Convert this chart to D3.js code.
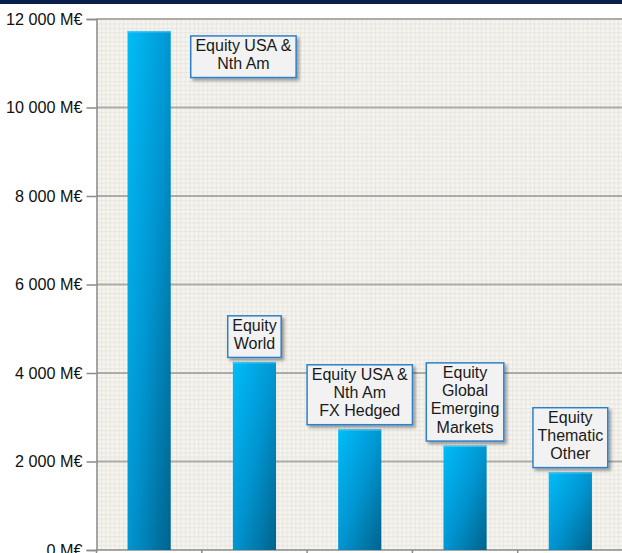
<!DOCTYPE html>
<html>
<head>
<meta charset="utf-8">
<script src="https://cdn.jsdelivr.net/npm/d3@7"></script>
<style>
  body { margin: 0; background: #ffffff; }
  text { font-family: "Liberation Sans", Arial, sans-serif; }
</style>
</head>
<body>
<div id="container"></div>
<script>
let w = 622;
let h = 553;

// data
let categories = ["eq_usa", "eq_world", "eq_usa_fx", "eq_em", "eq_them"];
let values = [11730, 4250, 2730, 2360, 1760];
let labels = [
  ["Equity USA &", "Nth Am"],
  ["Equity", "World"],
  ["Equity USA &", "Nth Am", "FX Hedged"],
  ["Equity", "Global", "Emerging", "Markets"],
  ["Equity", "Thematic", "Other"]
];
let yTicks = [0, 2000, 4000, 6000, 8000, 10000, 12000];

let margin = {top: 19, left: 96.5, bottom: 3, right: -1};

let viz = d3.select("#container")
  .append("svg")
    .attr("width", w)
    .attr("height", h)
;

let defs = viz.append("defs");

// small grid background pattern
let pat = defs.append("pattern")
  .attr("id", "grid")
  .attr("patternUnits", "userSpaceOnUse")
  .attr("width", 4.42)
  .attr("height", 4.42)
  .attr("x", margin.left)
  .attr("y", margin.top);
pat.append("rect").attr("width", 4.42).attr("height", 4.42).attr("fill", "#f5f4ef");
pat.append("path").attr("d", "M0,0.5H4.42M0.5,0V4.42").attr("stroke", "#e8e6df").attr("stroke-width", 1);

// bar gradient
let grad = defs.append("linearGradient")
  .attr("id", "barfill")
  .attr("x1", 0).attr("y1", 0).attr("x2", 1).attr("y2", 1);
grad.append("stop").attr("offset", 0).attr("stop-color", "#00bdf8");
grad.append("stop").attr("offset", 0.5).attr("stop-color", "#0096d2");
grad.append("stop").attr("offset", 1).attr("stop-color", "#00638c");

// drop shadow for labels
let shadow = defs.append("filter").attr("id", "shadow")
  .attr("x", "-20%").attr("y", "-20%").attr("width", "150%").attr("height", "150%");
shadow.append("feDropShadow")
  .attr("dx", 2.5).attr("dy", 2.5).attr("stdDeviation", 1.5)
  .attr("flood-color", "#000").attr("flood-opacity", 0.35);

// top navy band
viz.append("rect")
  .attr("x", 0).attr("y", 0).attr("width", w).attr("height", 4)
  .attr("fill", "#0b1f4b");

let xScale = d3.scaleBand()
  .domain(categories)
  .range([margin.left, w - margin.right])
  .paddingInner(0).paddingOuter(0);

let yScale = d3.scaleLinear()
  .domain([0, 12000])
  .range([h - margin.bottom, margin.top]);

// plot background
viz.append("rect")
  .attr("x", margin.left)
  .attr("y", margin.top)
  .attr("width", w - margin.left)
  .attr("height", yScale(0) - margin.top)
  .attr("fill", "url(#grid)");

// major gridlines
viz.append("g").attr("class", "gridlines")
  .selectAll("line")
  .data(yTicks.filter(d => d > 0))
  .enter()
  .append("line")
    .attr("x1", margin.left)
    .attr("x2", w)
    .attr("y1", d => yScale(d))
    .attr("y2", d => yScale(d))
    .attr("stroke", "#ababa7")
    .attr("stroke-width", 2);

let fmt = function(d){
  return d3.format(",")(d).replace(/,/g, " ") + " M€";
};

// y axis
let yAxis = d3.axisLeft(yScale)
  .tickValues(yTicks)
  .tickFormat(fmt)
  .tickSize(10)
  .tickPadding(4);
let yAxisGroup = viz.append("g").attr("class", "yaxis")
  .attr("transform", "translate(" + margin.left + ",0)")
  .call(yAxis);
yAxisGroup.select(".domain").attr("stroke", "#8a8a8a").attr("stroke-width", 1.5);
yAxisGroup.selectAll(".tick line").attr("stroke", "#8a8a8a").attr("stroke-width", 1.5);
yAxisGroup.selectAll(".tick text")
  .attr("font-size", "16.2px")
  .attr("fill", "#111")
  .style("font-family", "'Liberation Sans', Arial, sans-serif");

// x axis (no labels, ticks at band boundaries)
let xAxisGroup = viz.append("g").attr("class", "xaxis")
  .attr("transform", "translate(0," + yScale(0) + ")");
xAxisGroup.append("line")
  .attr("x1", margin.left).attr("x2", w)
  .attr("stroke", "#8a8a8a").attr("stroke-width", 1.5);
xAxisGroup.selectAll(".xtick")
  .data(categories)
  .enter()
  .append("line")
    .attr("class", "xtick")
    .attr("x1", d => xScale(d))
    .attr("x2", d => xScale(d))
    .attr("y1", 0).attr("y2", 6)
    .attr("stroke", "#8a8a8a").attr("stroke-width", 1.5);

// bars
let barW = xScale.bandwidth() * 0.41;
let data = categories.map(function(c, i){
  return {cat: c, value: values[i], label: labels[i]};
});

let bars = viz.append("g").attr("class", "bars")
  .selectAll(".bar")
  .data(data)
  .enter()
  .append("g")
  .attr("class", "bar");

bars.append("rect")
  .attr("x", d => xScale(d.cat) + (xScale.bandwidth() - barW) / 2)
  .attr("y", d => yScale(d.value))
  .attr("width", barW)
  .attr("height", d => yScale(0) - yScale(d.value))
  .attr("fill", "url(#barfill)");

// light cap on top of each bar
bars.append("rect")
  .attr("x", d => xScale(d.cat) + (xScale.bandwidth() - barW) / 2)
  .attr("y", d => yScale(d.value))
  .attr("width", barW)
  .attr("height", 1.5)
  .attr("fill", "#6fd6ff")
  .attr("opacity", 0.6);

// data labels in boxes
let lineH = 18.3;
let labelGroup = viz.append("g").attr("class", "labels");

data.forEach(function(d){
  let g = labelGroup.append("g");
  let box = g.append("rect")
    .attr("fill", "#f2f2f2")
    .attr("stroke", "#2f80c8")
    .attr("stroke-width", 1.5)
    .attr("filter", "url(#shadow)");
  let txt = g.append("text")
    .attr("text-anchor", "middle")
    .attr("font-size", "16px")
    .attr("fill", "#1a1a1a");
  d.label.forEach(function(line, i){
    txt.append("tspan")
      .attr("x", 0)
      .attr("y", 15 + i * lineH)
      .text(line);
  });
  let tw = txt.node().getBBox().width;
  let bw = tw + 9;
  let bh = d.label.length * lineH + 5;
  box.attr("x", -bw / 2).attr("y", 0).attr("width", bw).attr("height", bh);

  let cx = xScale(d.cat) + xScale.bandwidth() / 2;
  let top = yScale(d.value) - 4.5 - bh;
  if (top < margin.top) {
    // no room above the bar: put the box next to it
    cx = cx + barW / 2 + 20 + bw / 2;
    top = yScale(d.value) + 5;
  }
  g.attr("transform", "translate(" + cx + "," + top + ")");
});
</script>
</body>
</html>
